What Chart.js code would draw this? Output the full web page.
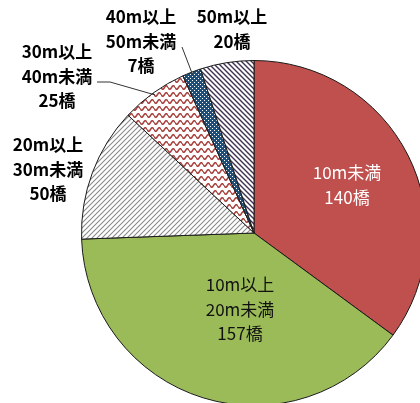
<!DOCTYPE html>
<html>
<head>
<meta charset="utf-8">
<script src="https://cdn.jsdelivr.net/npm/chart.js@4/dist/chart.umd.min.js"></script>
<style>
  html, body { margin:0; padding:0; background:#fff; overflow:hidden; }
  #wrap { position:relative; width:420px; height:403px; overflow:hidden; }
  #bridgeChart { position:absolute; left:0; top:0; }
</style>
</head>
<body>
<div id="wrap"><canvas id="bridgeChart" width="440" height="420"></canvas></div>
<script>
// 橋長別の橋梁数
const categories = ['10m未満', '10m以上\n20m未満', '20m以上\n30m未満', '30m以上\n40m未満', '40m以上\n50m未満', '50m以上'];
const bridgeCounts = [140, 157, 50, 25, 7, 20];
const unit = '橋';

// ハッチング用パターン
function makePattern(w, h, draw){
  const c = document.createElement('canvas');
  c.width = w; c.height = h;
  const g = c.getContext('2d');
  draw(g, w, h);
  return g.createPattern(c, 'repeat');
}

const ctx = document.getElementById('bridgeChart').getContext('2d');

const grayHatch = makePattern(5, 5, (g, w, h)=>{
  g.fillStyle = '#fff'; g.fillRect(0, 0, w, h);
  g.strokeStyle = '#8a8a8a'; g.lineWidth = 1.1;
  g.beginPath();
  g.moveTo(-1, h + 1); g.lineTo(w + 1, -1);
  g.moveTo(-1, 1); g.lineTo(1, -1);
  g.moveTo(w - 1, h + 1); g.lineTo(w + 1, h - 1);
  g.stroke();
});

const redWave = makePattern(7, 7, (g, w, h)=>{
  g.fillStyle = '#fff'; g.fillRect(0, 0, w, h);
  g.strokeStyle = '#a8403c'; g.lineWidth = 1.5;
  g.beginPath();
  for (let x = 0; x <= w; x += 0.5) {
    const y = 3.5 + 1.8 * Math.sin(x / w * Math.PI * 2);
    if (x === 0) g.moveTo(x, y); else g.lineTo(x, y);
  }
  g.stroke();
});

const blueDots = makePattern(4, 4, (g, w, h)=>{
  g.fillStyle = '#1f4e79'; g.fillRect(0, 0, w, h);
  g.fillStyle = '#ffffff';
  g.fillRect(0, 0, 1, 1);
  g.fillRect(2, 2, 1, 1);
});

const purpleHatch = makePattern(5, 5, (g, w, h)=>{
  g.fillStyle = '#fff'; g.fillRect(0, 0, w, h);
  g.strokeStyle = '#3f3151'; g.lineWidth = 1.4;
  g.beginPath();
  g.moveTo(-1, -1); g.lineTo(w + 1, h + 1);
  g.moveTo(w - 1, -1); g.lineTo(w + 1, 1);
  g.moveTo(-1, h - 1); g.lineTo(1, h + 1);
  g.stroke();
});

const fills = ['#c0504d', '#9bbb59', grayHatch, redWave, blueDots, purpleHatch];

// ラベル（位置は手動配置、引出線は扇形の外周へ）
const labelSpots = [
  { x:347, y:173, color:'#fff', weight:'normal' },
  { x:240, y:285, color:'#111', weight:'normal' },
  { x:48,  y:145, color:'#000', weight:'bold' },
  { x:57,  y:52,  color:'#000', weight:'bold', leader:[[97,82],[110,82]] },
  { x:141, y:17,  color:'#000', weight:'bold', leader:[[182,47]] },
  { x:232, y:17,  color:'#000', weight:'bold' }
];

const labelPlugin = {
  id:'sliceLabels',
  afterDraw(chart){
    const g = chart.ctx;
    const meta = chart.getDatasetMeta(0);
    g.save();
    g.textAlign = 'center';
    g.textBaseline = 'middle';
    categories.forEach((cat, i)=>{
      const s = labelSpots[i];
      const lines = cat.split('\n').concat([bridgeCounts[i] + unit]);
      g.fillStyle = s.color;
      g.font = s.weight + ' 17px "Noto Sans CJK JP"';
      lines.forEach((t, k)=> g.fillText(t, s.x, s.y + k * 24.5));
      if (s.leader) {
        const arc = meta.data[i];
        const mid = (arc.startAngle + arc.endAngle) / 2;
        const r = arc.outerRadius * 0.985;
        g.strokeStyle = '#333';
        g.lineWidth = 1;
        g.beginPath();
        g.moveTo(s.leader[0][0], s.leader[0][1]);
        s.leader.slice(1).forEach(p=> g.lineTo(p[0], p[1]));
        g.lineTo(arc.x + r * Math.cos(mid), arc.y + r * Math.sin(mid));
        g.stroke();
      }
    });
    g.restore();
  }
};

new Chart(ctx, {
  type: 'pie',
  data: {
    labels: categories,
    datasets: [{
      data: bridgeCounts,
      backgroundColor: fills,
      borderColor: '#1a1a1a',
      borderWidth: 1
    }]
  },
  options: {
    responsive: false,
    animation: false,
    layout: { padding: { left:81, top:60, right:13, bottom:14 } },
    plugins: { legend:{ display:false }, tooltip:{ enabled:false } }
  },
  plugins: [labelPlugin]
});
</script>
</body>
</html>
